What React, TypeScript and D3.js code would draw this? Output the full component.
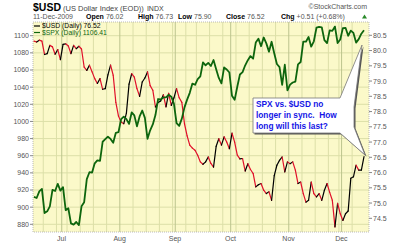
import React from 'react';
import * as d3 from 'd3';

// S&P 500 daily closes, 16-Jun-2009 .. 11-Dec-2009 (left axis)
const spx = [
  911.97, 910.71, 918.37, 921.23, 893.04, 895.1, 900.94, 920.26, 918.9, 927.23, 919.32,
  923.33, 896.42, 898.72, 881.03, 879.56, 882.68, 879.13, 901.05, 905.84, 932.68, 940.74, 940.38, 951.13, 954.58, 954.07, 976.29, 979.26, 982.18, 979.62, 975.15, 986.75, 987.48,
  1002.63, 1005.65, 1002.72, 997.08, 1010.48, 1007.1, 994.35, 1005.81, 1012.73, 1004.09, 979.73, 989.67, 996.46, 1007.37, 1026.13, 1025.57, 1028.0, 1028.12, 1030.98, 1028.93, 1020.62,
  998.04, 994.75, 1003.24, 1016.4, 1025.39, 1033.37, 1044.14, 1042.73, 1049.34, 1052.63, 1068.76, 1065.49, 1068.3, 1064.66, 1071.66, 1060.87, 1050.78, 1044.38, 1062.98, 1060.61, 1057.08,
  1029.85, 1025.21, 1040.46, 1054.72, 1057.58, 1065.48, 1071.49, 1076.19, 1073.19, 1092.02, 1096.56, 1087.68, 1097.91, 1091.06, 1081.4, 1092.91, 1079.6, 1066.95, 1063.41, 1042.63, 1066.11, 1036.19,
  1042.88, 1045.41, 1046.5, 1066.63, 1069.3, 1093.08, 1093.01, 1098.51, 1087.24, 1093.48, 1109.3, 1110.32, 1109.8, 1094.9, 1091.38, 1106.24, 1105.65, 1110.63, 1091.49, 1095.63,
  1108.86, 1109.24, 1099.92, 1105.98, 1103.25, 1091.94, 1095.95, 1102.35, 1106.41,
];

// US Dollar Index daily closes (right axis)
const usd = [
  80.31, 80.28, 80.34, 80.31, 79.87, 79.9, 80.17, 80.12, 79.88, 80.03, 79.7,
  80.2, 80.22, 80.15, 79.9, 80.17, 80.06, 80.14, 80.05, 79.46, 79.35, 79.52, 79.3, 79.08, 78.92, 79.08, 78.73, 78.75, 79.2, 79.52, 79.19, 78.3, 77.85,
  77.66, 77.6, 77.95, 78.9, 79.24, 79.13, 78.75, 78.5, 78.97, 79.1, 79.3, 78.85, 78.7, 78.15, 78.3, 78.35, 78.55, 78.15, 78.6, 78.2, 78.45,
  78.75, 78.45, 78.3, 77.6, 77.2, 76.9, 76.8, 76.73, 76.57, 76.35, 76.27, 76.35, 76.51, 76.3, 76.18, 76.86, 77.11, 76.9, 77.17, 77.0, 76.78,
  77.29, 77.0, 76.57, 76.45, 76.46, 76.05, 76.29, 76.1, 75.97, 75.53, 75.6, 75.64, 75.42, 75.31, 75.37, 75.09, 75.9, 76.24, 76.4, 76.51, 76.02, 76.35,
  76.29, 76.35, 76.08, 75.64, 75.69, 75.31, 75.03, 75.09, 75.69, 75.31, 75.2, 75.31, 75.09, 75.42, 75.64, 75.35, 75.09, 74.22, 74.99, 74.65,
  74.43, 74.65, 74.74, 75.81, 75.86, 76.24, 76.08, 76.08, 76.52,
];

const spxTicks = [880, 900, 920, 940, 960, 980, 1000, 1020, 1040, 1060, 1080, 1100];
const usdTicks = [74.5, 75.0, 75.5, 76.0, 76.5, 77.0, 77.5, 78.0, 78.5, 79.0, 79.5, 80.0, 80.5];
const monthNames = ['Jan', 'Feb', 'Mar', 'Apr', 'May', 'Jun', 'Jul', 'Aug', 'Sep', 'Oct', 'Nov', 'Dec'];
const holidays = ['2009-07-03', '2009-09-07', '2009-11-26'];
const firstDay = '2009-06-16';
const lastDay = '2009-12-11';

const noteLines = ['SPX vs. $USD no', 'longer in sync.\u00a0 How', 'long will this last?'];

function tradingDays(): Date[] {
  const out: Date[] = [];
  const fmt = d3.utcFormat('%Y-%m-%d');
  const end = new Date(lastDay + 'T00:00:00Z');
  for (let d = new Date(firstDay + 'T00:00:00Z'); d <= end; d = d3.utcDay.offset(d, 1)) {
    const wd = d.getUTCDay();
    if (wd === 0 || wd === 6) continue;
    if (holidays.includes(fmt(d))) continue;
    out.push(d);
  }
  return out;
}

const W = 400, H = 245;
const PL = 33, PR = 369, PT = 22, PB = 232;

export default function App() {
  const days = tradingDays();
  const n = spx.length;
  const x = d3.scaleLinear().domain([0, n - 1]).range([34, 364]);
  const yL = d3.scaleLinear().domain([880, 1100]).range([224.3, 35.7]);
  const yR = d3.scaleLinear().domain([74.5, 80.5]).range([218.3, 35.3]);

  const monthStarts: number[] = [];
  const weekStarts: number[] = [];
  days.forEach((d, i) => {
    if (i === 0) return;
    const p = days[i - 1];
    if (d.getUTCMonth() !== p.getUTCMonth()) monthStarts.push(i);
    else if (d.getUTCDay() < p.getUTCDay() || d3.utcDay.count(p, d) > 3) weekStarts.push(i);
  });

  const spxLine = d3.line<number>().x((_, i) => x(i)).y((v) => yL(v));
  const seg = d3.line<[number, number]>().x((p) => x(p[0])).y((p) => yR(p[1]));

  const font = 'Liberation Sans, Arial, sans-serif';

  return (
    <svg width={W} height={H} style={{ position: 'absolute', left: 0, top: 0, background: '#fff' }} fontFamily={font}>
      <defs>
        <clipPath id="plot">
          <rect x={PL} y={PT} width={PR - PL} height={PB - PT} />
        </clipPath>
      </defs>
      {/* header */}
      <text x={33} y={11} fill="#444" fontSize={7.5}>
        <tspan fontWeight="bold" fontSize={10.5} fill="#000">$USD</tspan>
        <tspan dx={2}>(US Dollar Index (EOD))</tspan>
        <tspan dx={3} fontSize={7}>INDX</tspan>
      </text>
      <text x={367} y={9} fill="#555" fontSize={7} textAnchor="end">©StockCharts.com</text>
      <text y={19} fontSize={7} fill="#555">
        <tspan x={33}>11-Dec-2009</tspan>
        <tspan x={86} fontWeight="bold" fill="#000">Open</tspan>
        <tspan dx={2}>76.02</tspan>
        <tspan x={138} fontWeight="bold" fill="#000">High</tspan>
        <tspan dx={2}>76.73</tspan>
        <tspan x={178} fontWeight="bold" fill="#000">Low</tspan>
        <tspan dx={2}>75.90</tspan>
        <tspan x={226} fontWeight="bold" fill="#000">Close</tspan>
        <tspan dx={2}>76.52</tspan>
        <tspan x={281} fontWeight="bold" fill="#000">Chg</tspan>
        <tspan dx={2}>+0.51 (+0.68%)</tspan>
      </text>
      <path d="M362,18.5 L364.5,14.5 L367,18.5 Z" fill="#2a8a2a" />

      {/* plot background */}
      <rect x={PL} y={PT} width={PR - PL} height={PB - PT} fill="#fbf9c9" />
      {weekStarts.map((i) => (
        <line key={'w' + i} x1={x(i) - 1.3} x2={x(i) - 1.3} y1={PT} y2={PB} stroke="#dcdfa8" strokeWidth={1} />
      ))}
      {spxTicks.map((t) => (
        <line key={'h' + t} x1={PL} x2={PR} y1={yL(t)} y2={yL(t)} stroke="#dcdfa8" strokeWidth={1} />
      ))}
      {monthStarts.map((i) => (
        <line key={'m' + i} x1={x(i) - 1.3} x2={x(i) - 1.3} y1={PT} y2={PB} stroke="#bcc48e" strokeWidth={1} />
      ))}
      <rect x={PL} y={PT} width={PR - PL} height={PB - PT} fill="none" stroke="#aaa" strokeWidth={0.8} strokeDasharray="1,1" />

      {/* axes labels */}
      {spxTicks.map((t) => (
        <g key={'lt' + t}>
          <line x1={PL - 3} x2={PL} y1={yL(t)} y2={yL(t)} stroke="#888" />
          <text x={PL - 4} y={yL(t)} dy="0.35em" textAnchor="end" fontSize={7} fill="#555">{t}</text>
        </g>
      ))}
      {usdTicks.map((t) => (
        <g key={'rt' + t}>
          <line x1={PR} x2={PR + 3} y1={yR(t)} y2={yR(t)} stroke="#888" />
          <text x={PR + 4} y={yR(t)} dy="0.35em" textAnchor="start" fontSize={7} fill="#555">{t.toFixed(1)}</text>
        </g>
      ))}
      {monthStarts.map((i) => (
        <text key={'ml' + i} x={x(i) - 1.5} y={241} textAnchor="middle" fontSize={7} fill="#555">
          {monthNames[days[i].getUTCMonth()]}
        </text>
      ))}

      {/* series */}
      <g clipPath="url(#plot)">
        {usd.slice(1).map((v, k) => {
          const i = k + 1;
          return (
            <path key={'u' + i} d={seg([[i - 1, usd[i - 1]], [i, v]]) || ''} fill="none"
              stroke={v < usd[i - 1] ? '#e0102a' : '#000'} strokeWidth={1.2} strokeLinecap="round" />
          );
        })}
        <path d={spxLine(spx) || ''} fill="none" stroke="#0d650d" strokeWidth={1.8} strokeLinejoin="round" />
      </g>

      {/* legend */}
      <line x1={34} x2={40} y1={26} y2={26} stroke="#000" strokeWidth={1.2} />
      <text x={42} y={28.3} fontSize={6.8} fill="#000">$USD (Daily) 76.52</text>
      <line x1={34} x2={40} y1={32.5} y2={32.5} stroke="#0d650d" strokeWidth={1.2} />
      <text x={42} y={34.8} fontSize={6.8} fill="#0d650d">$SPX (Daily) 1106.41</text>

      {/* callout */}
      <path d="M253,98 L340,98 L362,45 L354,107 L354,127 L365,155 L340,133 L253,133 Z"
        fill="#555" transform="translate(1.5,1.5)" />
      <path d="M253,98 L340,98 L362,45 L354,107 L354,127 L365,155 L340,133 L253,133 Z"
        fill="#fff" stroke="#777" strokeWidth={0.8} />
      {noteLines.map((s, i) => (
        <text key={'n' + i} x={256} y={106.5 + i * 11.2} fontSize={8.3} fontWeight="bold" fill="#1414e6">{s}</text>
      ))}
    </svg>
  );
}
